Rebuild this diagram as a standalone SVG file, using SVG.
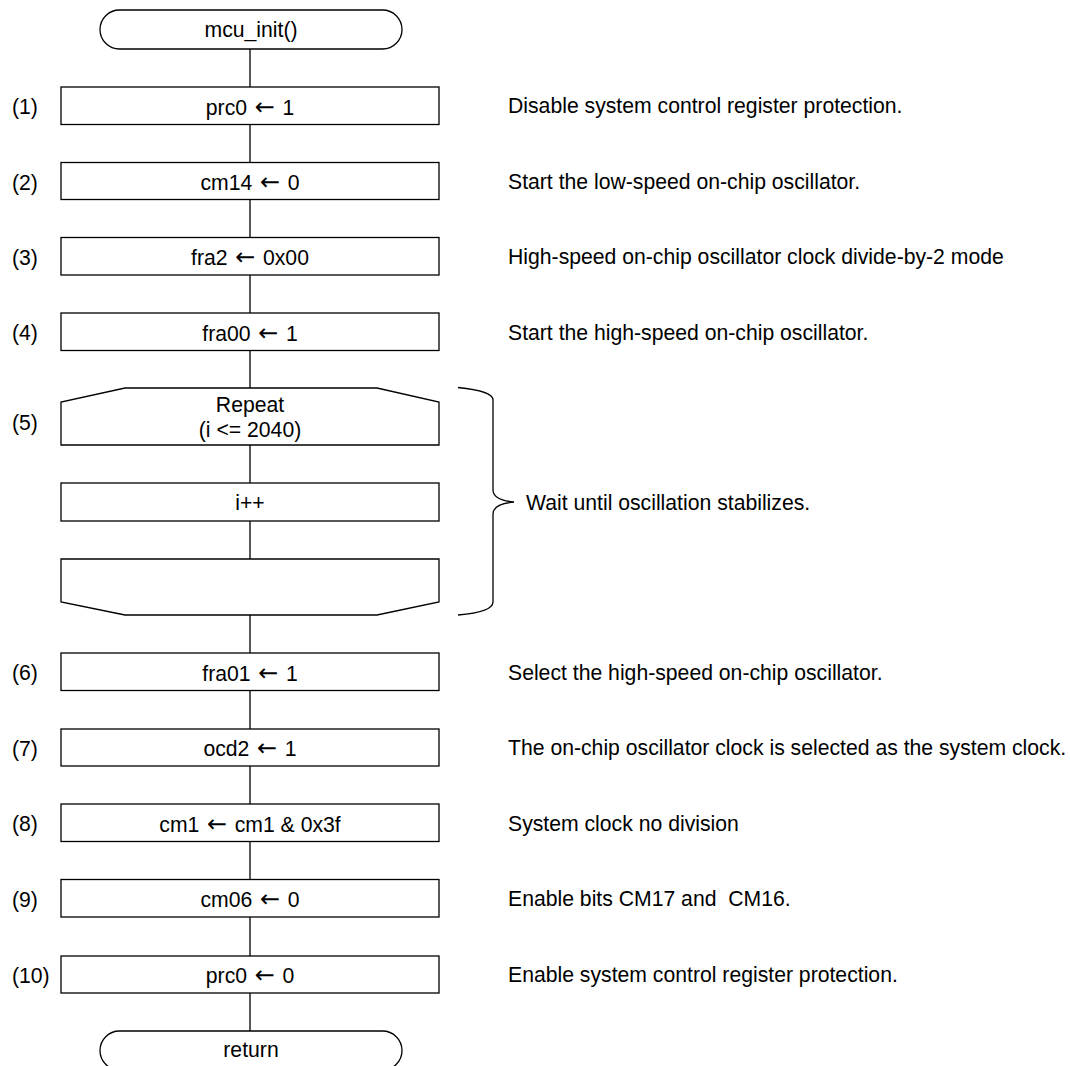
<svg xmlns="http://www.w3.org/2000/svg" width="1070" height="1066" viewBox="0 0 1070 1066">
<style>
.s{fill:#fff;stroke:#000;stroke-width:1.3}
.c{fill:none;stroke:#000;stroke-width:1.3}
text{font-family:"Liberation Sans",Arial,sans-serif;font-size:21.2px;fill:#000}
.m{text-anchor:middle}
.a{font-family:"DejaVu Sans",sans-serif;font-size:24px}
</style>
<rect width="1070" height="1066" fill="#fff"/>
<g id="connectors">
<path class="c" d="M250 49V87M250 124.5V162.5M250 199.5V237.5M250 275V313M250 350.5V388M250 445V483M250 521V559M250 615V653M250 690.5V729M250 766V804M250 841.5V879.5M250 917V956M250 993V1031"/>
<path class="c" d="M458 387.5Q493 391 493 400V490Q493 500 514 502Q493 504 493 514V602Q493 612 458 615"/>
</g>
<g id="start"><rect class="s" x="100" y="10" width="302" height="39" rx="19.5"/><text class="m" x="251" y="37">mcu_init()</text></g>
<g id="n1"><rect class="s" x="61" y="87" width="378" height="37.5"/><text class="m" x="250" y="114.5">prc0<tspan class="a" xml:space="preserve"> ← </tspan>1</text><text x="12" y="114">(1)</text><text x="508" y="113">Disable system control register protection.</text></g>
<g id="n2"><rect class="s" x="61" y="162.5" width="378" height="37"/><text class="m" x="250" y="190">cm14<tspan class="a" xml:space="preserve"> ← </tspan>0</text><text x="12" y="189.5">(2)</text><text x="508" y="189">Start the low-speed on-chip oscillator.</text></g>
<g id="n3"><rect class="s" x="61" y="237.5" width="378" height="37.5"/><text class="m" x="250" y="265">fra2<tspan class="a" xml:space="preserve"> ← </tspan>0x00</text><text x="12" y="264.5">(3)</text><text x="508" y="264">High-speed on-chip oscillator clock divide-by-2 mode</text></g>
<g id="n4"><rect class="s" x="61" y="313" width="378" height="37.5"/><text class="m" x="250" y="340.5">fra00<tspan class="a" xml:space="preserve"> ← </tspan>1</text><text x="12" y="340">(4)</text><text x="508" y="339.5">Start the high-speed on-chip oscillator.</text></g>
<g id="n5"><path class="s" d="M61 445V402L125 388H377L439 402V445Z"/><text class="m" x="250" y="411.5">Repeat</text><text class="m" x="250" y="436.5">(i &lt;= 2040)</text><text x="12" y="430">(5)</text></g>
<g id="n5b"><rect class="s" x="61" y="483" width="378" height="38"/><text class="m" x="250" y="510">i++</text></g>
<g id="n5c"><path class="s" d="M61 559H439V602L377 615H125L61 602Z"/></g>
<text x="526" y="509.5">Wait until oscillation stabilizes.</text>
<g id="n6"><rect class="s" x="61" y="653" width="378" height="37.5"/><text class="m" x="250" y="680.5">fra01<tspan class="a" xml:space="preserve"> ← </tspan>1</text><text x="12" y="680">(6)</text><text x="508" y="679.5">Select the high-speed on-chip oscillator.</text></g>
<g id="n7"><rect class="s" x="61" y="729" width="378" height="37"/><text class="m" x="250" y="756">ocd2<tspan class="a" xml:space="preserve"> ← </tspan>1</text><text x="12" y="755.5">(7)</text><text x="508" y="755">The on-chip oscillator clock is selected as the system clock.</text></g>
<g id="n8"><rect class="s" x="61" y="804" width="378" height="37.5"/><text class="m" x="250" y="831.5">cm1<tspan class="a" xml:space="preserve"> ← </tspan>cm1 &amp; 0x3f</text><text x="12" y="831">(8)</text><text x="508" y="830.5">System clock no division</text></g>
<g id="n9"><rect class="s" x="61" y="879.5" width="378" height="37.5"/><text class="m" x="250" y="907">cm06<tspan class="a" xml:space="preserve"> ← </tspan>0</text><text x="12" y="906.5">(9)</text><text x="508" y="906" xml:space="preserve">Enable bits CM17 and  CM16.</text></g>
<g id="n10"><rect class="s" x="61" y="956" width="378" height="37"/><text class="m" x="250" y="983">prc0<tspan class="a" xml:space="preserve"> ← </tspan>0</text><text x="12" y="982.5">(10)</text><text x="508" y="982">Enable system control register protection.</text></g>
<g id="end"><rect class="s" x="100" y="1031" width="302" height="39" rx="19.5"/><text class="m" x="251" y="1057">return</text></g>
</svg>
